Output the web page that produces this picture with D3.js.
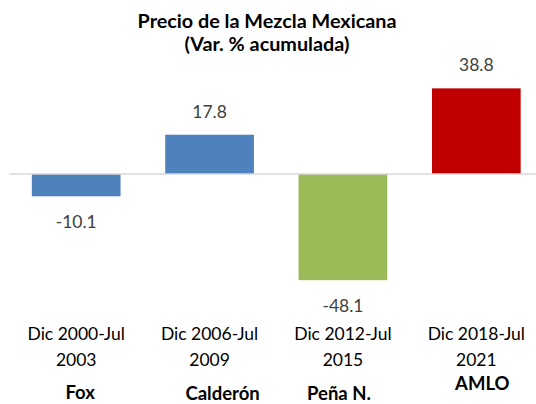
<!DOCTYPE html>
<html>
<head>
<meta charset="utf-8">
<script src="https://cdn.jsdelivr.net/npm/d3@7"></script>
<style>
  html, body { margin: 0; padding: 0; background: #fff; }
  svg { display: block; }
</style>
</head>
<body>
<svg id="chart" width="536" height="404"></svg>
<script>
// ---- data ----
const periods = ["Dic 2000-Jul 2003", "Dic 2006-Jul 2009", "Dic 2012-Jul 2015", "Dic 2018-Jul 2021"];
const periodLine1 = ["Dic 2000-Jul", "Dic 2006-Jul", "Dic 2012-Jul", "Dic 2018-Jul"];
const periodLine2 = ["2003", "2009", "2015", "2021"];
const presidents = ["Fox", "Calderón", "Peña N.", "AMLO"];
const values = [-10.1, 17.8, -48.1, 38.8];
const barColors = ["#4f81bd", "#4f81bd", "#9bbb59", "#c00000"];
const titleLines = ["Precio de la Mezcla Mexicana", "(Var. % acumulada)"];

// ---- layout ----
const W = 536, H = 404;
const svg = d3.select("#chart");
const font = "Lato, 'Open Sans', sans-serif";

const x = d3.scaleBand().domain(periods).range([9.5, 543]).paddingInner(0.335).paddingOuter(0.1675);
const y = d3.scaleLinear().domain([-60, 50]).range([174 + 60 * 2.207, 174 - 50 * 2.207]);

// title
svg.append("g").selectAll("text").data(titleLines).join("text")
  .attr("x", 267).attr("y", (d, i) => 28 + i * 23)
  .attr("text-anchor", "middle")
  .attr("font-family", font).attr("font-weight", "bold").attr("font-size", 19.8)
  .attr("fill", "#000").text(d => d);

// bars
svg.append("g").selectAll("rect").data(values).join("rect")
  .attr("x", (d, i) => x(periods[i]))
  .attr("width", x.bandwidth())
  .attr("y", d => y(Math.max(0, d)))
  .attr("height", d => Math.abs(y(d) - y(0)))
  .attr("fill", (d, i) => barColors[i]);

// zero axis line
svg.append("line")
  .attr("x1", 9.5).attr("x2", W).attr("y1", y(0)).attr("y2", y(0))
  .attr("stroke", "#d9d9d9").attr("stroke-width", 1.6);

// data labels
svg.append("g").selectAll("text").data(values).join("text")
  .attr("x", (d, i) => x(periods[i]) + x.bandwidth() / 2)
  .attr("y", d => d >= 0 ? y(d) - 17 : y(d) + 32)
  .attr("text-anchor", "middle")
  .attr("font-family", font).attr("font-size", 17.5)
  .attr("fill", "#404040")
  .text(d => d.toFixed(1));

// category labels (two lines)
const cat = svg.append("g").selectAll("text").data(periods).join("text")
  .attr("text-anchor", "middle")
  .attr("font-family", font).attr("font-size", 17.5)
  .attr("fill", "#000");
cat.append("tspan")
  .attr("x", d => x(d) + x.bandwidth() / 2).attr("y", 340)
  .text((d, i) => periodLine1[i]);
cat.append("tspan")
  .attr("x", d => x(d) + x.bandwidth() / 2).attr("y", 366)
  .text((d, i) => periodLine2[i]);

// president names (hand-placed text boxes in original)
const nameDx = [4, 13, -4, 6];
const nameBase = [399, 400, 400, 390];
svg.append("g").selectAll("text").data(presidents).join("text")
  .attr("x", (d, i) => x(periods[i]) + x.bandwidth() / 2 + nameDx[i])
  .attr("y", (d, i) => nameBase[i])
  .attr("text-anchor", "middle")
  .attr("font-family", font).attr("font-weight", "bold").attr("font-size", 18.5)
  .attr("fill", "#000").text(d => d);
</script>
</body>
</html>
